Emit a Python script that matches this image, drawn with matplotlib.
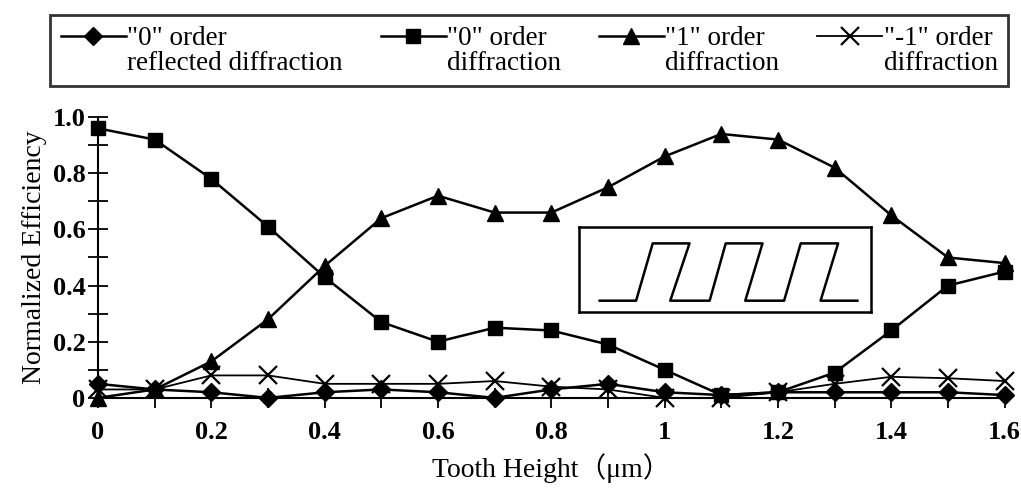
import matplotlib
matplotlib.use("Agg")
import matplotlib.pyplot as plt
from matplotlib.ticker import MultipleLocator
from matplotlib.legend_handler import HandlerLine2D

plt.rcParams['font.family'] = ['Liberation Serif', 'DejaVu Serif']

# ---- data ----
tooth_height = [0.0, 0.1, 0.2, 0.3, 0.4, 0.5, 0.6, 0.7, 0.8, 0.9,
                1.0, 1.1, 1.2, 1.3, 1.4, 1.5, 1.6]
reflected_0 = [0.05, 0.03, 0.02, 0.00, 0.02, 0.03, 0.02, 0.00, 0.03, 0.05,
               0.02, 0.01, 0.02, 0.02, 0.02, 0.02, 0.01]
order_0 = [0.96, 0.92, 0.78, 0.61, 0.43, 0.27, 0.20, 0.25, 0.24, 0.19,
           0.10, 0.01, 0.02, 0.09, 0.24, 0.40, 0.45]
order_1 = [0.00, 0.03, 0.13, 0.28, 0.47, 0.64, 0.72, 0.66, 0.66, 0.75,
           0.86, 0.94, 0.92, 0.82, 0.65, 0.50, 0.48]
order_m1 = [0.03, 0.03, 0.08, 0.08, 0.05, 0.05, 0.05, 0.06, 0.04, 0.03,
            0.00, 0.00, 0.02, 0.05, 0.075, 0.07, 0.06]

labels = ['"0" order\nreflected diffraction', '"0" order\ndiffraction',
          '"1" order\ndiffraction', '"-1" order\ndiffraction']
x_ticks = [0, 0.2, 0.4, 0.6, 0.8, 1.0, 1.2, 1.4, 1.6]
x_ticklabels = ['0', '0.2', '0.4', '0.6', '0.8', '1', '1.2', '1.4', '1.6']
y_ticks = [0, 0.2, 0.4, 0.6, 0.8, 1.0]
y_ticklabels = ['0', '0.2', '0.4', '0.6', '0.8', '1.0']

# inset grating sketch (fractions of the inset box)
wave_x = [0.069, 0.194, 0.251, 0.377, 0.311, 0.446, 0.501, 0.627,
          0.568, 0.701, 0.758, 0.886, 0.826, 0.952]
wave_y = [0.135, 0.135, 0.804, 0.804, 0.135, 0.135, 0.804, 0.804,
          0.135, 0.135, 0.804, 0.804, 0.135, 0.135]


class UpperHandler(HandlerLine2D):
    """Place the legend handle level with the first line of the label."""
    def create_artists(self, legend, orig_handle, xdescent, ydescent,
                       width, height, fontsize, trans):
        arts = super().create_artists(legend, orig_handle, xdescent, ydescent,
                                      width, height, fontsize, trans)
        for a in arts:
            a.set_ydata([y + 0.55 * fontsize for y in a.get_ydata()])
        return arts


fig = plt.figure(figsize=(10.21, 4.9), dpi=100)
ax = fig.add_axes([0.096, 0.188, 0.888, 0.573])

lw = 1.8
h1, = ax.plot(tooth_height, reflected_0, color='black', lw=lw, marker='D', markersize=9, label=labels[0])
h2, = ax.plot(tooth_height, order_0, color='black', lw=lw, marker='s', markersize=10, label=labels[1])
h3, = ax.plot(tooth_height, order_1, color='black', lw=lw, marker='^', markersize=12, label=labels[2])
h4, = ax.plot(tooth_height, order_m1, color='black', lw=1.3, marker='x', markersize=13, markeredgewidth=1.6, label=labels[3])

ax.set_xlim(0, 1.6)
ax.set_ylim(0, 1.0)
ax.spines['top'].set_visible(False)
ax.spines['right'].set_visible(False)
ax.spines['left'].set_linewidth(1.5)
ax.spines['bottom'].set_linewidth(1.5)
ax.set_xticks(x_ticks)
ax.set_xticklabels(x_ticklabels, fontweight='bold', fontsize=19)
ax.set_yticks(y_ticks)
ax.set_yticklabels(y_ticklabels, fontweight='bold', fontsize=19)
ax.xaxis.set_minor_locator(MultipleLocator(0.1))
ax.yaxis.set_minor_locator(MultipleLocator(0.1))
ax.tick_params(which='both', direction='inout', length=14, width=1.3)
ax.tick_params(axis='x', pad=10)
ax.tick_params(axis='y', pad=2)
for ln in ax.get_lines():
    ln.set_clip_on(False)

ax.set_xlabel('Tooth Height（μm）', fontsize=20, labelpad=6,
              family=['Liberation Serif', 'Noto Sans CJK SC'])
ax.set_ylabel('Normalized Efficiency', fontsize=20, labelpad=4)

# inset box with grating sketch
ins = ax.inset_axes([0.531, 0.305, 0.322, 0.305])
ins.set_xlim(0, 1)
ins.set_ylim(0, 1)
ins.set_xticks([])
ins.set_yticks([])
for s in ins.spines.values():
    s.set_linewidth(1.8)
ins.plot(wave_x, wave_y, color='black', lw=1.8)

leg = fig.legend(handles=[h1, h2, h3, h4], labels=labels, loc='upper left',
                 bbox_to_anchor=(0.049, 0.97), borderaxespad=0, ncol=4,
                 fontsize=19.5,
                 frameon=True, fancybox=False, edgecolor='black',
                 handlelength=2.4, handletextpad=0.05, columnspacing=1.4,
                 borderpad=0.4, labelspacing=0.1,
                 handler_map={h: UpperHandler() for h in [h1, h2, h3, h4]})
leg.get_frame().set_linewidth(2.0)
for t in leg.get_texts():
    t.set_linespacing(1.0)

fig.savefig('out.png', dpi=100)
